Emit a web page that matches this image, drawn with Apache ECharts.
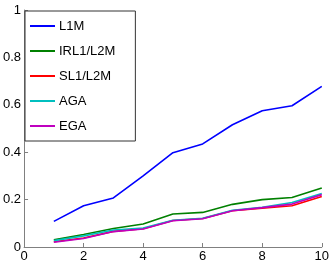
<!DOCTYPE html>
<html><head><meta charset="utf-8">
<script src="https://cdn.jsdelivr.net/npm/echarts@6/dist/echarts.min.js"></script>
<style>html,body{margin:0;padding:0;background:#fff}#c{width:332px;height:263px}</style>
</head><body><div id="c"></div>
<script>
const xs = [1,2,3,4,5,6,7,8,9,10];
const L1M  = [0.108,0.174,0.207,0.300,0.398,0.435,0.516,0.575,0.596,0.678];
const IRL1 = [0.030,0.053,0.078,0.097,0.139,0.146,0.180,0.200,0.209,0.249];
const SL1  = [0.022,0.038,0.066,0.077,0.112,0.120,0.153,0.164,0.174,0.213];
const AGA  = [0.027,0.047,0.072,0.080,0.113,0.121,0.155,0.168,0.188,0.226];
const EGA  = [0.020,0.036,0.065,0.076,0.111,0.119,0.153,0.166,0.181,0.221];
const names = ['L1M','IRL1/L2M','SL1/L2M','AGA','EGA'];
const colors = ['#0000ff','#008000','#ff0000','#00bfbf','#bf00bf'];
const dataSets = [L1M, IRL1, SL1, AGA, EGA];
const font = 'Liberation Sans, Arial, Helvetica, sans-serif';
const chart = echarts.init(document.getElementById('c'));
chart.setOption({
  animation:false,
  grid:{left:21,right:10,top:10,bottom:16,containLabel:false},
  xAxis:{type:'value',min:0,max:10,interval:2,
    axisLine:{lineStyle:{color:'#808080',width:1}},
    axisTick:{inside:true,length:4,lineStyle:{color:'#808080'}},
    axisLabel:{color:'#000',fontSize:13,fontFamily:font,margin:3},
    splitLine:{show:false}},
  yAxis:{type:'value',min:0,max:1,interval:0.2,
    axisLine:{show:true,lineStyle:{color:'#808080',width:1}},
    axisTick:{show:true,inside:true,length:4,lineStyle:{color:'#808080'}},
    axisLabel:{color:'#000',fontSize:13,fontFamily:font,margin:3},
    splitLine:{show:false}},
  legend:{orient:'vertical',left:25,top:11,padding:[8,20,8,5],
    itemGap:11,itemWidth:25,itemHeight:2,icon:'rect',
    backgroundColor:'#fff',borderColor:'#333',borderWidth:1,
    textStyle:{color:'#000',fontSize:13,fontFamily:font,padding:[0,0,0,-1],lineHeight:14},
    data:names},
  series: names.map((n,i)=>({name:n,type:'line',showSymbol:false,symbol:'none',
    color:colors[i],lineStyle:{width:1.6,color:colors[i]},
    data:xs.map((x,j)=>[x,dataSets[i][j]])}))
});
</script></body></html>
